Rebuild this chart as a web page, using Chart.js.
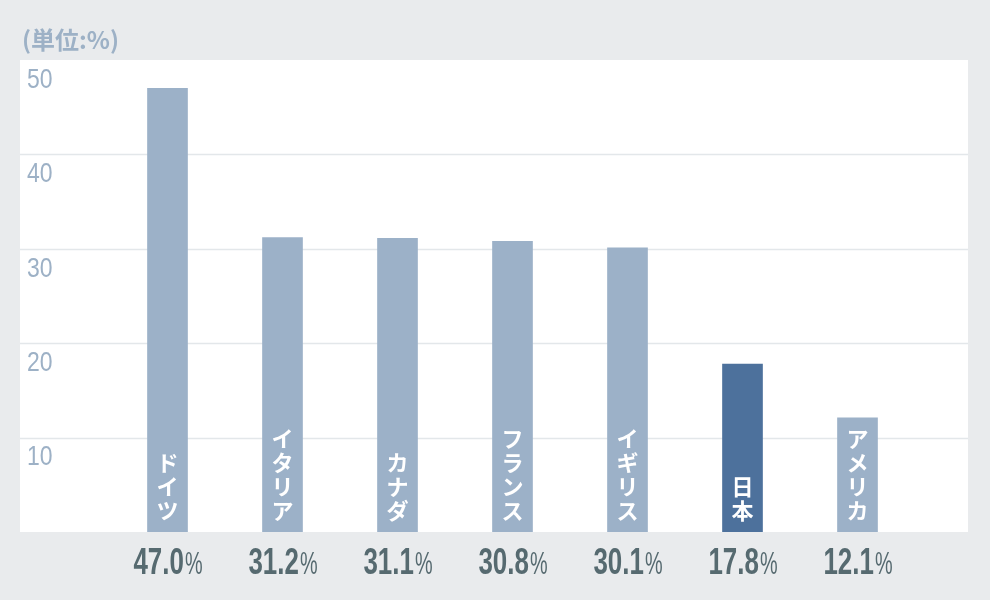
<!DOCTYPE html>
<html>
<head>
<meta charset="utf-8">
<script src="https://cdn.jsdelivr.net/npm/chart.js@4/dist/chart.umd.min.js"></script>
<style>
  html, body { margin: 0; padding: 0; background: #e9ebed; }
  #wrap { width: 990px; height: 600px; position: relative; }
</style>
</head>
<body>
<div id="wrap"><canvas id="rateChart" width="990" height="600"></canvas></div>
<script>
var countries = ['ドイツ', 'イタリア', 'カナダ', 'フランス', 'イギリス', '日本', 'アメリカ'];
var rates = [47.0, 31.2, 31.1, 30.8, 30.1, 17.8, 12.1];
var yTicks = [10, 20, 30, 40, 50];
var unitLabel = '(単位:%)';

var barColors = countries.map(function(c) {
	return c === '日本' ? '#4d719c' : '#9cb1c8';
});

// white panel, grid lines, y labels, names in bars, values under bars
var decor = {
	id: 'decor',
	beforeDatasetsDraw: function(chart) {
		var ctx = chart.ctx;
		var area = chart.chartArea;
		var y = chart.scales.y;
		ctx.save();
		ctx.fillStyle = '#ffffff';
		ctx.fillRect(20, area.top, 948, area.bottom - area.top);
		ctx.strokeStyle = '#e3e7ea';
		ctx.lineWidth = 1.5;
		yTicks.forEach(function(t) {
			if (t >= 50) return;
			var py = Math.round(y.getPixelForValue(t)) + 0.5;
			ctx.beginPath();
			ctx.moveTo(20, py);
			ctx.lineTo(968, py);
			ctx.stroke();
		});
		ctx.fillStyle = '#9db1c6';
		ctx.textBaseline = 'middle';
		ctx.textAlign = 'left';
		yTicks.forEach(function(t) {
			var py = y.getPixelForValue(t) + 20;
			ctx.save();
			ctx.translate(27, py);
			ctx.scale(0.82, 1);
			ctx.font = '28px "Liberation Sans", sans-serif';
			ctx.fillText(String(t), 0, 0);
			ctx.restore();
		});
		ctx.font = 'bold 24px "Noto Sans CJK JP", sans-serif';
		ctx.fillText(unitLabel, 22, 40);
		ctx.restore();
	},
	afterDatasetsDraw: function(chart) {
		var ctx = chart.ctx;
		var bars = chart.getDatasetMeta(0).data;
		ctx.save();
		bars.forEach(function(bar, i) {
			var chars = Array.from(countries[i]);
			ctx.fillStyle = '#ffffff';
			ctx.font = 'bold 22px "Noto Sans CJK JP", sans-serif';
			ctx.textAlign = 'center';
			ctx.textBaseline = 'middle';
			var step = 24;
			for (var k = 0; k < chars.length; k++) {
				var cy = bar.base - 21 - (chars.length - 1 - k) * step;
				ctx.fillText(chars[k], bar.x, cy);
			}
			// value label
			var num = rates[i].toFixed(1);
			ctx.fillStyle = '#566a70';
			ctx.textBaseline = 'alphabetic';
			ctx.textAlign = 'left';
			ctx.font = 'bold 36px "Liberation Sans", sans-serif';
			var sx = 0.72;
			var wNum = ctx.measureText(num).width * sx;
			ctx.font = '32px "Liberation Sans", sans-serif';
			var wPct = ctx.measureText('%').width * 0.62;
			var x0 = bar.x - (wNum + wPct) / 2;
			ctx.save();
			ctx.translate(x0, 574);
			ctx.scale(sx, 1);
			ctx.font = 'bold 36px "Liberation Sans", sans-serif';
			ctx.fillText(num, 0, 0);
			ctx.restore();
			ctx.save();
			ctx.translate(x0 + wNum + 1, 574);
			ctx.scale(0.62, 1);
			ctx.font = '32px "Liberation Sans", sans-serif';
			ctx.fillText('%', 0, 0);
			ctx.restore();
		});
		ctx.restore();
	}
};

var ctx = document.getElementById('rateChart');
var rateChart = new Chart(ctx, {
	type: 'bar',
	data: {
		labels: countries,
		datasets: [{
			label: '割合',
			data: rates,
			backgroundColor: barColors,
			barThickness: 40,
			borderWidth: 0
		}]
	},
	options: {
		responsive: false,
		animation: false,
		layout: { padding: { left: 110, right: 75, top: 60, bottom: 68 } },
		plugins: {
			legend: { display: false },
			tooltip: { enabled: false }
		},
		scales: {
			x: { display: false },
			y: { display: false, min: 0, max: 50 }
		}
	},
	plugins: [decor]
});
</script>
</body>
</html>
